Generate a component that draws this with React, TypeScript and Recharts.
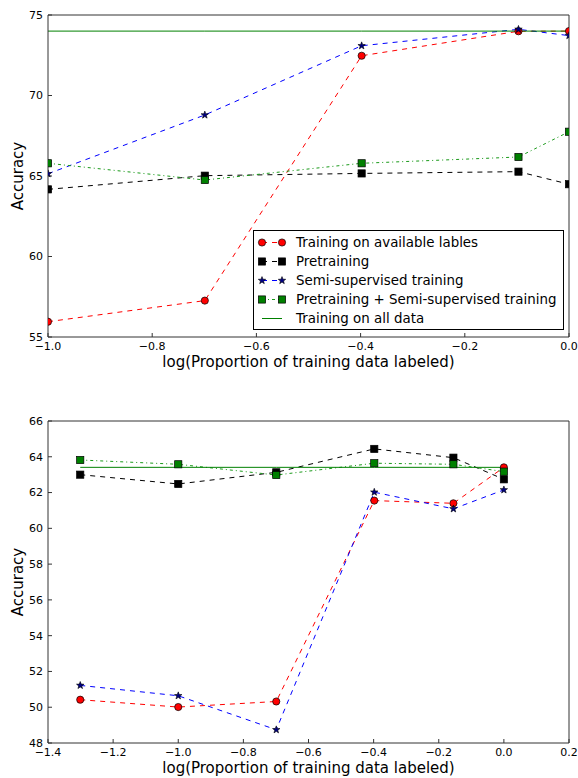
import React from 'react';
import { LineChart, Line, XAxis, YAxis, Legend, Label } from 'recharts';

// top panel: log10 of labeled fraction 0.1, 0.2, 0.4, 0.8, 1.0
const topX = [-1.0, -0.699, -0.398, -0.097, 0.0];
const topAvailable = [55.95, 57.26, 72.47, 73.99, 74.0];
const topPretrain = [64.17, 65.02, 65.16, 65.27, 64.49];
const topSemi = [65.14, 68.79, 73.09, 74.11, 73.72];
const topPretrainSemi = [65.79, 64.75, 65.79, 66.18, 67.75];
const topAllData = [74.0, 74.0, 74.0, 74.0, 74.0];

// bottom panel: 0.05, 0.1, 0.2, 0.4, 0.7, 1.0
const bottomX = [-1.301, -1.0, -0.699, -0.398, -0.155, 0.0];
const bottomAvailable = [50.42, 50.01, 50.32, 61.55, 61.4, 63.41];
const bottomPretrain = [63.0, 62.48, 63.13, 64.44, 63.95, 62.74];
const bottomSemi = [51.22, 50.64, 48.74, 62.02, 61.09, 62.15];
const bottomPretrainSemi = [63.82, 63.58, 62.98, 63.64, 63.58, 63.17];
const bottomAllData = [63.41, 63.41, 63.41, 63.41, 63.41, 63.41];

const topXTicks = [-1.0, -0.8, -0.6, -0.4, -0.2, 0.0];
const topYTicks = [55, 60, 65, 70, 75];
const bottomXTicks = [-1.4, -1.2, -1.0, -0.8, -0.6, -0.4, -0.2, 0.0, 0.2];
const bottomYTicks = [48, 50, 52, 54, 56, 58, 60, 62, 64, 66];

const seriesNames = [
  'Training on available lables',
  'Pretraining',
  'Semi-supervised training',
  'Pretraining + Semi-supervised training',
  'Training on all data',
];

const FONT = '"DejaVu Sans", sans-serif';
const FRAME = '#333';

type Marker = 'circle' | 'square' | 'star' | 'greenSquare' | 'none';

// style of each series, same order as seriesNames
const STYLES: { key: string; color: string; dash?: string; marker: Marker }[] = [
  { key: 'available', color: '#ff0000', dash: '5 5', marker: 'circle' },
  { key: 'pretrain', color: '#000000', dash: '5 5', marker: 'square' },
  { key: 'semi', color: '#0000ff', dash: '5 5', marker: 'star' },
  { key: 'pretrainSemi', color: '#1a9a1a', dash: '3 3 1 3', marker: 'greenSquare' },
  { key: 'allData', color: '#008000', marker: 'none' },
];

const starPoints = (cx: number, cy: number, ro: number, ri: number) => {
  const pts: string[] = [];
  for (let i = 0; i < 10; i++) {
    const r = i % 2 === 0 ? ro : ri;
    const a = -Math.PI / 2 + (i * Math.PI) / 5;
    pts.push(`${cx + r * Math.cos(a)},${cy + r * Math.sin(a)}`);
  }
  return pts.join(' ');
};

const drawMarker = (m: Marker, cx: number, cy: number) => {
  if (m === 'circle') return <circle cx={cx} cy={cy} r={3.6} fill="#ff0000" stroke="#000" strokeWidth={0.7} />;
  if (m === 'square') return <rect x={cx - 3.6} y={cy - 3.6} width={7.2} height={7.2} fill="#000" stroke="#000" strokeWidth={0.7} />;
  if (m === 'greenSquare') return <rect x={cx - 3.6} y={cy - 3.6} width={7.2} height={7.2} fill="#008000" stroke="#000" strokeWidth={0.7} />;
  if (m === 'star') return <polygon points={starPoints(cx, cy, 3.9, 1.6)} fill="#000080" stroke="#000" strokeWidth={0.6} />;
  return null;
};

const fmtX = (v: number) => (Math.abs(v) < 1e-9 ? '0.0' : v.toFixed(1).replace('-', '\u2212'));

const LegendBox = () => (
  <div
    style={{
      width: 311,
      height: 100,
      boxSizing: 'border-box',
      border: '1px solid #000',
      background: '#fff',
      paddingTop: 1.5,
      fontFamily: FONT,
      fontSize: 13.4,
      color: '#000',
    }}
  >
    {STYLES.map((s, i) => (
      <div key={s.key} style={{ height: 19, display: 'flex', alignItems: 'center', whiteSpace: 'nowrap' }}>
        <svg width={42} height={19} style={{ flex: 'none' }}>
          <line x1={8} x2={28} y1={9.5} y2={9.5} stroke={s.color} strokeWidth={1} strokeDasharray={s.dash} />
          {drawMarker(s.marker, 8, 9.5)}
          {drawMarker(s.marker, 28, 9.5)}
        </svg>
        <span>{seriesNames[i]}</span>
      </div>
    ))}
  </div>
);

type PanelProps = {
  xs: number[];
  series: number[][];
  xDomain: [number, number];
  yDomain: [number, number];
  xTicks: number[];
  yTicks: number[];
  top: number;
  xAxisHeight: number;
  showLegend?: boolean;
};

const Panel = ({ xs, series, xDomain, yDomain, xTicks, yTicks, top, xAxisHeight, showLegend }: PanelProps) => {
  const rows = xs.map((x, i) => {
    const row: Record<string, number> = { x };
    STYLES.forEach((s, k) => {
      row[s.key] = series[k][i];
    });
    return row;
  });

  const tickStyle = { fontSize: 11, fill: '#000', fontFamily: FONT };

  return (
    <LineChart width={578} height={389} data={rows} margin={{ top: top - 1, right: 8, bottom: 0, left: 0 }}>
      <XAxis
        type="number"
        dataKey="x"
        domain={xDomain}
        ticks={xTicks}
        allowDataOverflow
        tickFormatter={fmtX}
        height={xAxisHeight}
        tickSize={-4}
        tickMargin={9}
        tick={tickStyle}
        stroke={FRAME}
        interval={0}
      >
        <Label
          content={(p: any) => {
            const vb = p.viewBox;
            return (
              <text x={vb.x + vb.width / 2} y={vb.y + 30} textAnchor="middle" fontSize={15} fontFamily={FONT} fill="#000">
                log(Proportion of training data labeled)
              </text>
            );
          }}
        />
      </XAxis>
      {/* frame: top and right sides with inward ticks */}
      <XAxis
        xAxisId="t"
        orientation="top"
        type="number"
        dataKey="x"
        domain={xDomain}
        ticks={xTicks}
        allowDataOverflow
        height={1}
        tickSize={-4}
        tick={false}
        stroke={FRAME}
        interval={0}
      />
      <YAxis
        type="number"
        domain={yDomain}
        ticks={yTicks}
        allowDataOverflow
        width={48}
        tickSize={-4}
        tickMargin={9}
        tick={tickStyle}
        stroke={FRAME}
        interval={0}
      >
        <Label
          content={(p: any) => {
            const vb = p.viewBox;
            const cy = vb.y + vb.height / 2;
            return (
              <text
                x={18}
                y={cy}
                transform={`rotate(-90 18 ${cy})`}
                textAnchor="middle"
                dominantBaseline="central"
                fontSize={15}
                fontFamily={FONT}
                fill="#000"
              >
                Accuracy
              </text>
            );
          }}
        />
      </YAxis>
      <YAxis
        yAxisId="r"
        orientation="right"
        type="number"
        domain={yDomain}
        ticks={yTicks}
        allowDataOverflow
        width={1}
        tickSize={-4}
        tick={false}
        stroke={FRAME}
        interval={0}
      />
      {STYLES.map((s) => (
        <Line
          key={s.key}
          dataKey={s.key}
          name={s.key}
          stroke={s.color}
          strokeWidth={1}
          strokeDasharray={s.dash}
          isAnimationActive={false}
          dot={
            s.marker === 'none'
              ? false
              : (p: any) => <g key={`${s.key}-${p.index}`}>{drawMarker(s.marker, p.cx, p.cy)}</g>
          }
          activeDot={false}
        />
      ))}
      {showLegend && (
        <Legend
          layout="vertical"
          align="center"
          verticalAlign="middle"
          content={() => <LegendBox />}
          wrapperStyle={{ left: 253, top: 230, width: 311, height: 100 }}
        />
      )}
    </LineChart>
  );
};

export default function App() {
  return (
    <div style={{ position: 'absolute', left: 0, top: 0, width: 578, height: 778, background: '#fff' }}>
      <Panel
        xs={topX}
        series={[topAvailable, topPretrain, topSemi, topPretrainSemi, topAllData]}
        xDomain={[-1, 0]}
        yDomain={[55, 75]}
        xTicks={topXTicks}
        yTicks={topYTicks}
        top={15}
        xAxisHeight={52}
        showLegend
      />
      <Panel
        xs={bottomX}
        series={[bottomAvailable, bottomPretrain, bottomSemi, bottomPretrainSemi, bottomAllData]}
        xDomain={[-1.4, 0.2]}
        yDomain={[48, 66]}
        xTicks={bottomXTicks}
        yTicks={bottomYTicks}
        top={32}
        xAxisHeight={35}
      />
    </div>
  );
}
